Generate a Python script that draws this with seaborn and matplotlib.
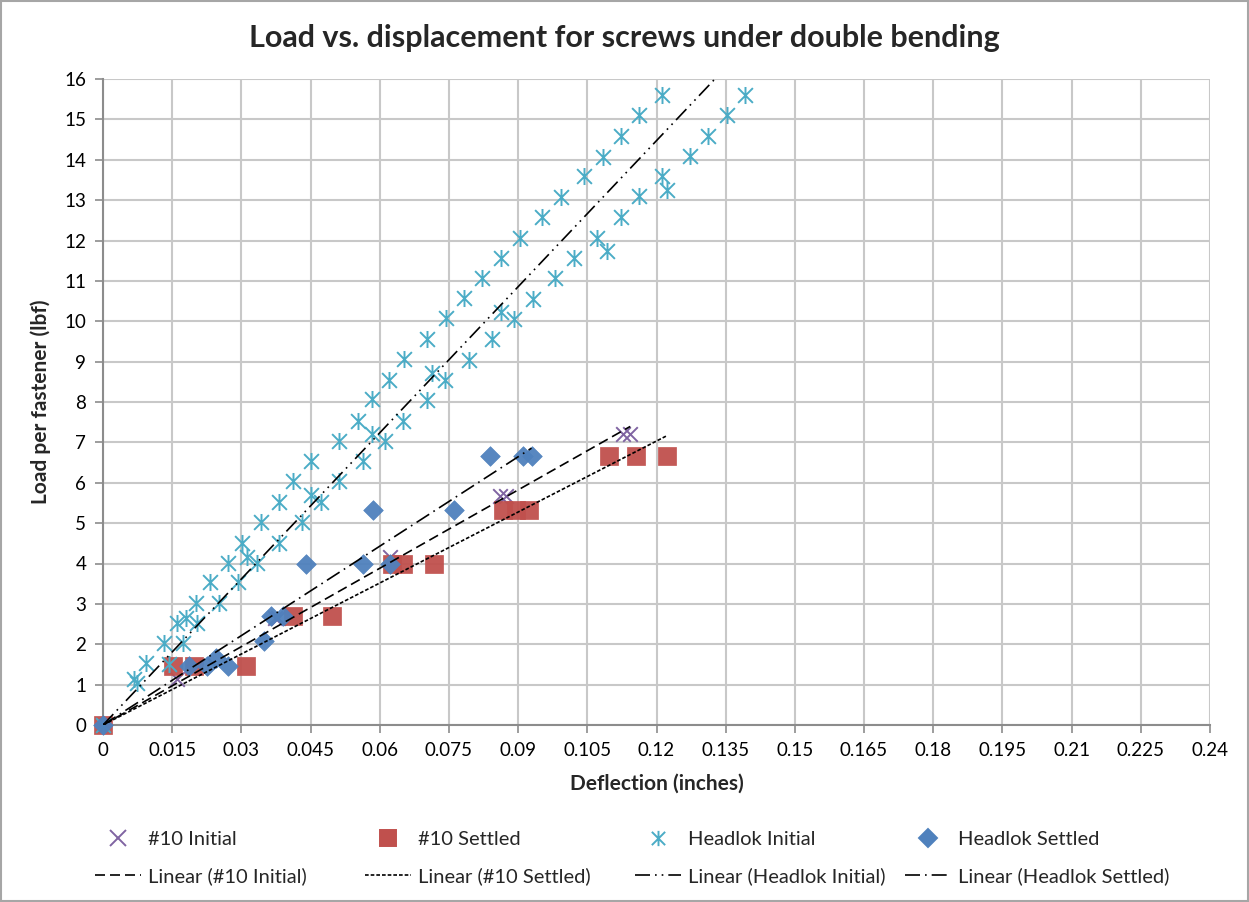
import numpy as np
import pandas as pd
import matplotlib
matplotlib.use('Agg')
import matplotlib.pyplot as plt
import seaborn as sns
from matplotlib.path import Path
from matplotlib.lines import Line2D
from matplotlib.patches import Rectangle

# ---- data ----
n10_init_x = [0, 0.0161, 0.0372, 0.0380, 0.0622, 0.0861, 0.0874, 0.1128, 0.1143]
n10_init_y = [0, 1.13, 2.64, 2.64, 4.15, 5.66, 5.66, 7.20, 7.20]

n10_set_x = [0, 0.0151, 0.0198, 0.0310, 0.0413, 0.0497, 0.0626, 0.0651, 0.0717,
             0.0867, 0.0895, 0.0924, 0.1096, 0.1155, 0.1222]
n10_set_y = [0, 1.47, 1.47, 1.47, 2.70, 2.70, 4.00, 4.00, 4.00,
             5.33, 5.33, 5.33, 6.67, 6.67, 6.67]

hl_init_x = [0, 0.0068, 0.0073, 0.0093, 0.0143, 0.0132, 0.0173, 0.0161, 0.0203, 0.0181,
             0.0202, 0.0252, 0.0232, 0.0292, 0.0272, 0.0333, 0.0313, 0.0302, 0.0382,
             0.0343, 0.0432, 0.0382, 0.0473, 0.0452, 0.0413, 0.0512, 0.0452, 0.0563,
             0.0512, 0.0611, 0.0583, 0.0552, 0.0651, 0.0583, 0.0703, 0.0621, 0.0741,
             0.0713, 0.0653, 0.0793, 0.0703, 0.0843, 0.0743, 0.0892, 0.0862, 0.0783,
             0.0932, 0.0822, 0.0981, 0.0862, 0.1022, 0.1092, 0.0903, 0.1072, 0.0952,
             0.1122, 0.0992, 0.1163, 0.1222, 0.1042, 0.1213, 0.1083, 0.1273, 0.1122,
             0.1312, 0.1163, 0.1352, 0.1213, 0.1392]
hl_init_y = [0, 1.13, 1.03, 1.53, 1.51, 2.02, 2.02, 2.53, 2.52, 2.64,
             3.03, 3.03, 3.53, 3.53, 4.02, 4.02, 4.17, 4.52, 4.52,
             5.04, 5.04, 5.53, 5.53, 5.70, 6.05, 6.05, 6.55, 6.55,
             7.04, 7.04, 7.21, 7.54, 7.54, 8.07, 8.05, 8.55, 8.55,
             8.71, 9.07, 9.04, 9.56, 9.56, 10.08, 10.05, 10.22, 10.58,
             10.55, 11.07, 11.07, 11.57, 11.56, 11.73, 12.07, 12.07, 12.58,
             12.58, 13.07, 13.09, 13.26, 13.59, 13.60, 14.08, 14.10, 14.59,
             14.59, 15.10, 15.10, 15.61, 15.61]

hl_set_x = [0, 0.0187, 0.0225, 0.0245, 0.0270, 0.0350, 0.0364, 0.0390, 0.0440,
            0.0563, 0.0622, 0.0586, 0.0760, 0.0839, 0.0910, 0.0929]
hl_set_y = [0, 1.47, 1.47, 1.65, 1.47, 2.09, 2.71, 2.71, 4.00,
            4.00, 4.00, 5.33, 5.33, 6.67, 6.67, 6.67]

names = ['#10 Initial', '#10 Settled', 'Headlok Initial', 'Headlok Settled']
xs = [n10_init_x, n10_set_x, hl_init_x, hl_set_x]
ys = [n10_init_y, n10_set_y, hl_init_y, hl_set_y]

# ---- styles ----
star = Path([(-1, -1), (1, 1), (-1, 1), (1, -1), (0, -1.15), (0, 1.15)],
            [Path.MOVETO, Path.LINETO, Path.MOVETO, Path.LINETO, Path.MOVETO, Path.LINETO])
colors = ['#8064A2', '#C0504D', '#4BACC6', '#4F81BD']
markers = ['x', 's', star, 'D']
sizes = [110, 150, 150, 100]
trend_ls = [(0, (6, 3)), (0, (2.2, 1.2)), (0, (9, 3, 1, 3, 1, 3)), (0, (9, 3, 1, 3))]

sns.set_theme(style='whitegrid')
plt.rcParams['font.family'] = ['Lato', 'DejaVu Sans']

fig = plt.figure(figsize=(12.49, 9.02), dpi=100)
ax = fig.add_axes([103/1249, 1-725/902, 1107/1249, 646/902])

for i in range(4):
    df = pd.DataFrame({'x': xs[i], 'y': ys[i]})
    m = markers[i]
    if m in ('x',) or m is star:
        sns.scatterplot(data=df, x='x', y='y', marker=m, s=sizes[i], color=colors[i],
                        edgecolor=colors[i], linewidth=1.4, ax=ax, zorder=3, clip_on=False)
    else:
        sns.scatterplot(data=df, x='x', y='y', marker=m, s=sizes[i], color=colors[i],
                        edgecolor=colors[i], linewidth=0.5, alpha=0.95, ax=ax, zorder=3,
                        clip_on=False)

# linear trendlines through the origin
for i in range(4):
    x = np.array(xs[i]); y = np.array(ys[i])
    slope = (x*y).sum() / (x*x).sum()
    fx = np.array([0, x.max()])
    ax.plot(fx, slope*fx, color='black', lw=1.2, linestyle=trend_ls[i], zorder=4)

ax.set_xlim(0, 0.24)
ax.set_ylim(0, 16)
xt = np.round(np.arange(0, 0.2401, 0.015), 3)
ax.set_xticks(xt)
ax.set_xticklabels(['0' if v == 0 else ('%g' % v) for v in xt])
ax.set_yticks(range(0, 17))
ax.grid(True, color='#c8c8c8', lw=1.5)
for s in ['top', 'right']:
    ax.spines[s].set_visible(False)
for s in ['left', 'bottom']:
    ax.spines[s].set_visible(True)
    ax.spines[s].set_color('#8c8c8c')
    ax.spines[s].set_linewidth(1.5)
ax.tick_params(axis='both', direction='out', length=6, width=1.2, color='#8c8c8c',
               labelsize=13.5, labelcolor='black', pad=6, bottom=True, left=True)
ax.set_xlabel('Deflection (inches)', fontsize=15, fontweight='bold')
ax.set_ylabel('Load per fastener (lbf)', fontsize=15, fontweight='bold')
ax.xaxis.set_label_coords(0.5, -0.075)
ax.yaxis.set_label_coords(-0.047, 0.5)
ax.xaxis.label.set_va('top')

fig.text(0.5, 1-38/902, 'Load vs. displacement for screws under double bending',
         ha='center', va='center', fontsize=22, fontweight='bold')

# legend: four columns, markers on first row and trendlines on second row
col_x = [95, 365, 635, 905]
for i in range(4):
    h1 = Line2D([], [], ls='none', marker=markers[i], color=colors[i], mec=colors[i],
                markersize=11 if markers[i] != 'D' else 9, mew=1.4)
    h2 = Line2D([], [], color='black', lw=1.2, ls=trend_ls[i])
    fig.legend([h1, h2], [names[i], 'Linear (%s)' % names[i]], loc='upper left',
               bbox_to_anchor=(col_x[i]/1249, 1-831/902), frameon=False,
               fontsize=14.5, handlelength=2.3, handletextpad=0.35, labelspacing=0.95,
               borderpad=0, borderaxespad=0)

fig.patches.append(Rectangle((0.001, 0.001), 0.998, 0.998, transform=fig.transFigure,
                             fill=False, edgecolor='#a6a6a6', lw=1.5))

fig.savefig('out.png', dpi=100)
